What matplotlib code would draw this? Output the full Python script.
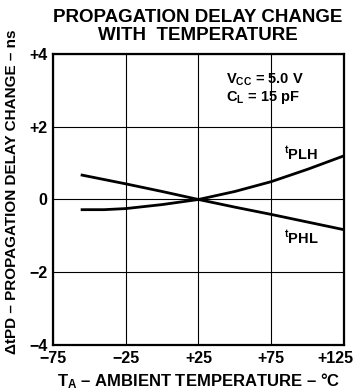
import matplotlib.pyplot as plt
from matplotlib.transforms import ScaledTranslation

plt.rcParams['font.family'] = ['Liberation Sans', 'DejaVu Sans']
plt.rcParams['font.weight'] = 'bold'
plt.rcParams['mathtext.fontset'] = 'custom'
plt.rcParams['mathtext.rm'] = 'Liberation Sans:bold'
plt.rcParams['mathtext.it'] = 'Liberation Sans:bold'
plt.rcParams['mathtext.bf'] = 'Liberation Sans:bold'

# temperatures (degC) and delay change (ns)
temp = [-55, -40, -25, 0, 25, 50, 75, 100, 125]
tplh = [-0.28, -0.28, -0.25, -0.14, 0.0, 0.22, 0.49, 0.83, 1.2]
tphl = [0.67, 0.55, 0.43, 0.22, 0.0, -0.21, -0.41, -0.62, -0.83]

xticks = [-75, -25, 25, 75, 125]
xlabels = ['\u221275', '\u221225', '+25', '+75', '+125']
yticks = [-4, -2, 0, 2, 4]
ylabels = ['\u22124', '\u22122', '0', '+2', '+4']

fig = plt.figure(figsize=(3.59, 3.91), dpi=100)
ax = fig.add_axes([0.1476, 0.1176, 0.8104, 0.7444])

ax.plot(temp, tplh, color='black', lw=2)
ax.plot(temp, tphl, color='black', lw=2)

ax.set_xlim(-75, 125)
ax.set_ylim(-4, 4)
ax.set_xticks(xticks)
ax.set_xticklabels(xlabels)
ax.set_yticks(yticks)
ax.set_yticklabels(ylabels)
ax.tick_params(length=0, labelsize=11.5, pad=4)
ax.grid(True, color='black', lw=0.8)
for s in ax.spines.values():
    s.set_linewidth(1.6)

# last x label sits inside the figure edge, as in the original
last = ax.get_xticklabels()[-1]
last.set_ha('right')
last.set_transform(last.get_transform() + ScaledTranslation(0.10, 0, fig.dpi_scale_trans))

ax.text(44, 3.3, r'V$_{\mathregular{CC}}$ = 5.0 V', fontsize=10.5, va='center')
ax.text(44, 2.8, r'C$_{\mathregular{L}}$ = 15 pF', fontsize=10.5, va='center')
ax.text(84, 1.25, r'$^{\mathregular{t}}$PLH', fontsize=10.5, va='center')
ax.text(84, -1.05, r'$^{\mathregular{t}}$PHL', fontsize=10.5, va='center')

fig.text(0.551, 0.932, 'PROPAGATION DELAY CHANGE\nWITH  TEMPERATURE',
         ha='center', va='center', fontsize=13.5, fontweight='bold', linespacing=1.05)
fig.text(0.553, 0.026, 'T$_{\\mathregular{A}}$ \u2013 AMBIENT TEMPERATURE \u2013 \u00b0C',
         ha='center', va='center', fontsize=12)
fig.text(0.033, 0.51, '\u0394tPD \u2013 PROPAGATION DELAY CHANGE \u2013 ns',
         ha='center', va='center', rotation=90, fontsize=11)

plt.savefig('out.png', dpi=100)
plt.close()
